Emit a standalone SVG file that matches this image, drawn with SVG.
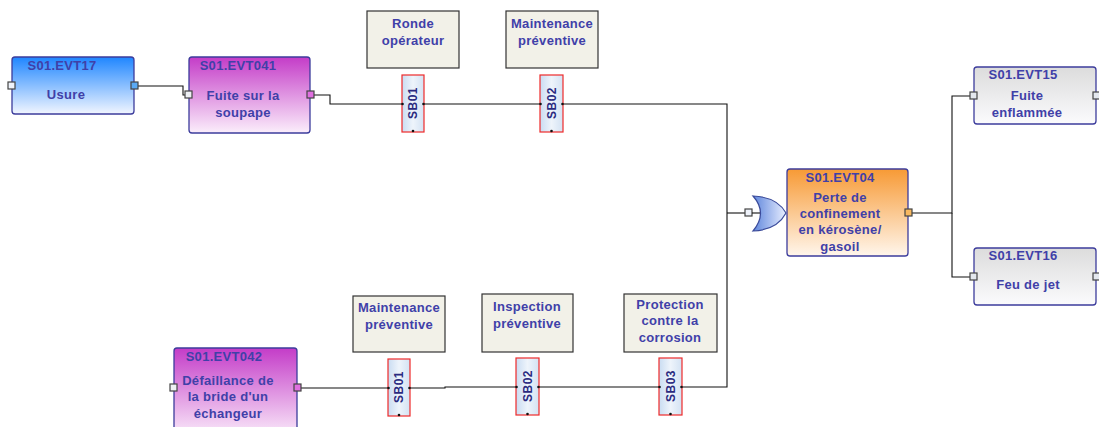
<svg xmlns="http://www.w3.org/2000/svg" width="1099" height="427" viewBox="0 0 1099 427">
<defs>
<linearGradient id="gBlue" x1="0" y1="0" x2="0" y2="1"><stop offset="0" stop-color="#1f86ff"/><stop offset="1" stop-color="#f2f6ff"/></linearGradient>
<linearGradient id="gPurple" x1="0" y1="0" x2="0" y2="1"><stop offset="0" stop-color="#c43cc8"/><stop offset="1" stop-color="#fbeefb"/></linearGradient>
<linearGradient id="gOrange" x1="0" y1="0" x2="0" y2="1"><stop offset="0" stop-color="#f79a35"/><stop offset="1" stop-color="#fff6ec"/></linearGradient>
<linearGradient id="gGray" x1="0" y1="0" x2="0" y2="1"><stop offset="0" stop-color="#dcdcdc"/><stop offset="1" stop-color="#fbfbfd"/></linearGradient>
<linearGradient id="gSB" x1="0" y1="0" x2="1" y2="0"><stop offset="0" stop-color="#c9dcf2"/><stop offset="0.5" stop-color="#eef4fb"/><stop offset="1" stop-color="#d3e2f3"/></linearGradient>
<linearGradient id="gGate" x1="0" y1="0" x2="1" y2="0"><stop offset="0" stop-color="#5f86dc"/><stop offset="1" stop-color="#e8eeff"/></linearGradient>
</defs>
<style>
.node{stroke:#3c3c9c;stroke-width:1.3}
.port{stroke:#444;stroke-width:1.2}
.t{font-family:"Liberation Sans",Arial,sans-serif;font-weight:bold;font-size:13px;letter-spacing:0.3px;fill:#4040a8;text-anchor:middle}
.bar{fill:#f2f1e8;stroke:#333;stroke-width:1.2}
.sb{fill:url(#gSB);stroke:#ee2a2a;stroke-width:1.2}
.sbt{font-family:"Liberation Sans",Arial,sans-serif;font-weight:bold;font-size:12px;letter-spacing:0.5px;fill:#2a2a80;text-anchor:middle}
.c{fill:none;stroke:#111;stroke-width:1.1}
.dot{fill:#111}
</style>
<g id="connectors">
<path class="c" d="M138,86 H183 V95 H186"/>
<path class="c" d="M314,95 H330 V104 H402"/>
<path class="c" d="M424,104 H540"/>
<path class="c" d="M563,104 H727 V387 H682"/>
<path class="c" d="M727,213 H745"/>
<path class="c" d="M301,388 H388"/>
<path class="c" d="M410,388 H445 V387 H516"/>
<path class="c" d="M539,387 H659"/>
<path class="c" d="M912,213 H952 V96 H970"/>
<path class="c" d="M952,213 V277 H970"/>
</g>
<g id="EVT17">
<rect class="node" x="12" y="57" width="122" height="57" rx="3" fill="url(#gBlue)"/>
<text class="t" x="62" y="70">S01.EVT17</text>
<text class="t" x="66" y="99">Usure</text>
<rect class="port" x="8" y="82" width="7" height="7" fill="#eef2fa"/>
<rect class="port" x="131" y="82" width="7" height="7" fill="#5aaaf5"/>
</g>
<g id="EVT041">
<rect class="node" x="189" y="57" width="121" height="76" rx="3" fill="url(#gPurple)"/>
<text class="t" x="238" y="70">S01.EVT041</text>
<text class="t" x="243" y="100">Fuite sur la</text>
<text class="t" x="243" y="117">soupape</text>
<rect class="port" x="185" y="91" width="7" height="7" fill="#eef0f4"/>
<rect class="port" x="307" y="91" width="7" height="7" fill="#e070e0"/>
</g>
<g id="B_ronde">
<rect class="bar" x="367" y="11" width="92" height="57"/>
<text class="t" x="413" y="28">Ronde</text>
<text class="t" x="413" y="45">opérateur</text>
</g>
<g id="SB01a">
<rect class="sb" x="402" y="75" width="22" height="57"/>
<text class="sbt" transform="translate(417,103) rotate(-90)">SB01</text>
<circle class="dot" cx="402.5" cy="104" r="1.3"/><circle class="dot" cx="423.5" cy="104" r="1.3"/><circle class="dot" cx="413" cy="131" r="1.3"/>
</g>
<g id="B_maint1">
<rect class="bar" x="506" y="11" width="92" height="57"/>
<text class="t" x="552" y="28">Maintenance</text>
<text class="t" x="552" y="45">préventive</text>
</g>
<g id="SB02a">
<rect class="sb" x="540" y="75" width="23" height="57"/>
<text class="sbt" transform="translate(555.5,103) rotate(-90)">SB02</text>
<circle class="dot" cx="540.5" cy="104" r="1.3"/><circle class="dot" cx="562.5" cy="104" r="1.3"/><circle class="dot" cx="551.5" cy="131" r="1.3"/>
</g>
<g id="EVT042">
<rect class="node" x="174" y="348" width="123" height="90" rx="3" fill="url(#gPurple)"/>
<text class="t" x="224" y="361">S01.EVT042</text>
<text class="t" x="228" y="385">Défaillance de</text>
<text class="t" x="228" y="401">la bride d'un</text>
<text class="t" x="228" y="418">échangeur</text>
<rect class="port" x="170" y="384" width="7" height="7" fill="#eef0f4"/>
<rect class="port" x="294" y="384" width="7" height="7" fill="#e070e0"/>
</g>
<g id="B_maint2">
<rect class="bar" x="353" y="296" width="92" height="56"/>
<text class="t" x="399" y="312">Maintenance</text>
<text class="t" x="399" y="329">préventive</text>
</g>
<g id="SB01b">
<rect class="sb" x="388" y="359" width="22" height="57"/>
<text class="sbt" transform="translate(403,387) rotate(-90)">SB01</text>
<circle class="dot" cx="388.5" cy="388" r="1.3"/><circle class="dot" cx="409.5" cy="388" r="1.3"/><circle class="dot" cx="399" cy="415" r="1.3"/>
</g>
<g id="B_insp">
<rect class="bar" x="482" y="294" width="91" height="58"/>
<text class="t" x="527" y="311">Inspection</text>
<text class="t" x="527" y="328">préventive</text>
</g>
<g id="SB02b">
<rect class="sb" x="516" y="358" width="23" height="57"/>
<text class="sbt" transform="translate(531.5,386) rotate(-90)">SB02</text>
<circle class="dot" cx="516.5" cy="387" r="1.3"/><circle class="dot" cx="538.5" cy="387" r="1.3"/><circle class="dot" cx="527.5" cy="414" r="1.3"/>
</g>
<g id="B_prot">
<rect class="bar" x="624" y="294" width="93" height="58"/>
<text class="t" x="670" y="309">Protection</text>
<text class="t" x="670" y="325">contre la</text>
<text class="t" x="670" y="342">corrosion</text>
</g>
<g id="SB03">
<rect class="sb" x="659" y="358" width="23" height="57"/>
<text class="sbt" transform="translate(674.5,386) rotate(-90)">SB03</text>
<circle class="dot" cx="659.5" cy="387" r="1.3"/><circle class="dot" cx="681.5" cy="387" r="1.3"/><circle class="dot" cx="670.5" cy="414" r="1.3"/>
</g>
<g id="OR">
<path d="M753,196 Q768,213 753,231 Q777,230 786,213 Q777,197 753,196 Z" fill="url(#gGate)" stroke="#3a4a9a" stroke-width="1.2"/>
<rect class="port" x="745" y="209" width="7" height="7" fill="#eef2fa"/>
<path class="c" d="M752,213 H760"/>
</g>
<g id="EVT04">
<rect class="node" x="787" y="169" width="121" height="87" rx="3" fill="url(#gOrange)"/>
<text class="t" x="840" y="182">S01.EVT04</text>
<text class="t" x="840" y="202">Perte de</text>
<text class="t" x="840" y="218">confinement</text>
<text class="t" x="840" y="234">en kérosène/</text>
<text class="t" x="840" y="251">gasoil</text>
<rect class="port" x="905" y="209" width="7" height="7" fill="#f8b860"/>
</g>
<g id="EVT15">
<rect class="node" x="974" y="67" width="122" height="57" rx="3" fill="url(#gGray)"/>
<text class="t" x="1023" y="79">S01.EVT15</text>
<text class="t" x="1027" y="100">Fuite</text>
<text class="t" x="1027" y="117">enflammée</text>
<rect class="port" x="970" y="92" width="7" height="7" fill="#e4e8ee"/>
<rect class="port" x="1093" y="92" width="7" height="7" fill="#e4e8ee"/>
</g>
<g id="EVT16">
<rect class="node" x="974" y="248" width="122" height="57" rx="3" fill="url(#gGray)"/>
<text class="t" x="1023" y="260">S01.EVT16</text>
<text class="t" x="1028" y="289">Feu de jet</text>
<rect class="port" x="970" y="273" width="7" height="7" fill="#e4e8ee"/>
<rect class="port" x="1093" y="273" width="7" height="7" fill="#e4e8ee"/>
</g>
</svg>
